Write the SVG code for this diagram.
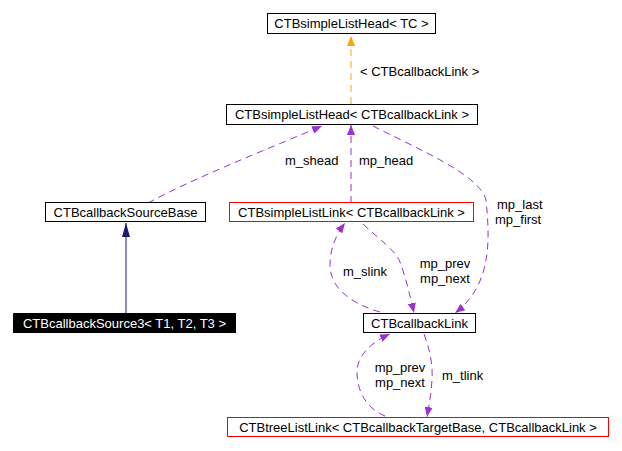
<svg xmlns="http://www.w3.org/2000/svg" width="622" height="451" viewBox="0 0 622 451">
<defs>
<style>
text{font-family:"Liberation Sans",Arial,sans-serif;font-size:13px;fill:#000}
.n{text-anchor:middle}
.box{fill:#fff;stroke:#000;stroke-width:1}
.red{fill:#fff;stroke:#f00;stroke-width:1}
.p{fill:none;stroke:#9a32cd;stroke-width:1;stroke-dasharray:7,5}
.o{fill:none;stroke:#ffa500;stroke-width:1;stroke-dasharray:7,5}
.b{fill:none;stroke:#191970;stroke-width:1}
</style>
<marker id="ap" viewBox="0 0 10 8" refX="10" refY="4" markerWidth="10" markerHeight="8" markerUnits="userSpaceOnUse" orient="auto"><path d="M0,0L10,4L0,8z" fill="#9a32cd"/></marker>
<marker id="ao" viewBox="0 0 10 8" refX="10" refY="4" markerWidth="10" markerHeight="8" markerUnits="userSpaceOnUse" orient="auto"><path d="M0,0L10,4L0,8z" fill="#ffa500"/></marker>
<marker id="ab" viewBox="0 0 14 8" refX="14" refY="4" markerWidth="14" markerHeight="8" markerUnits="userSpaceOnUse" orient="auto"><path d="M0,0L14,4L0,8z" fill="#191970"/></marker>
</defs>
<rect width="622" height="451" fill="#fff"/>
<g id="edges">
<path class="o" d="M351,104L351,36" marker-end="url(#ao)"/>
<path class="b" d="M126,313L126,223" marker-end="url(#ab)"/>
<path class="p" d="M148,203C190,180 260,152 322,126" marker-end="url(#ap)"/>
<path class="p" d="M351,203L351,125" marker-end="url(#ap)"/>
<path class="p" d="M373,126C420,150 480,175 486,200C490,240 492,285 455,313" marker-end="url(#ap)"/>
<path class="p" d="M380,312C355,305 330,290 330,265C330,248 336,235 345,223" marker-end="url(#ap)"/>
<path class="p" d="M363,224C380,240 395,250 400,262C405,275 410,295 414,313" marker-end="url(#ap)"/>
<path class="p" d="M385,416C370,410 357,395 357,372C357,355 372,342 390,334" marker-end="url(#ap)"/>
<path class="p" d="M424,334C430,350 433,365 432,380C431,395 429,405 427,417" marker-end="url(#ap)"/>
<text x="360" y="76">&lt; CTBcallbackLink &gt;</text>
<text x="285" y="165">m_shead</text>
<text x="359" y="165">mp_head</text>
<text x="497" y="209">mp_last</text>
<text x="495" y="224">mp_first</text>
<text x="343" y="276">m_slink</text>
<text x="445" y="268" class="n">mp_prev</text>
<text x="445" y="283" class="n">mp_next</text>
<text x="400" y="372" class="n">mp_prev</text>
<text x="400" y="387" class="n">mp_next</text>
<text x="442" y="380">m_tlink</text>
</g>
<g id="n_head_tc"><rect class="box" x="267.5" y="13.5" width="168" height="20"/><text class="n" x="351.5" y="28">CTBsimpleListHead&lt; TC &gt;</text></g>
<g id="n_head_cb"><rect class="box" x="226.5" y="104.5" width="251" height="20"/><text class="n" x="352" y="119">CTBsimpleListHead&lt; CTBcallbackLink &gt;</text></g>
<g id="n_srcbase"><rect class="box" x="45.5" y="202.5" width="160" height="19"/><text class="n" x="125.5" y="217">CTBcallbackSourceBase</text></g>
<g id="n_slink"><rect class="red" x="229.5" y="202.5" width="244" height="19"/><text class="n" x="351.5" y="217">CTBsimpleListLink&lt; CTBcallbackLink &gt;</text></g>
<g id="n_src3"><rect x="13" y="313" width="223" height="20" fill="#000"/><text class="n" x="124.5" y="328" style="fill:#fff">CTBcallbackSource3&lt; T1, T2, T3 &gt;</text></g>
<g id="n_cblink"><rect class="box" x="363.5" y="313.5" width="112" height="19"/><text class="n" x="419.5" y="328">CTBcallbackLink</text></g>
<g id="n_tree"><rect class="red" x="227.5" y="417.5" width="381" height="19"/><text class="n" x="418" y="432">CTBtreeListLink&lt; CTBcallbackTargetBase, CTBcallbackLink &gt;</text></g>
</svg>
